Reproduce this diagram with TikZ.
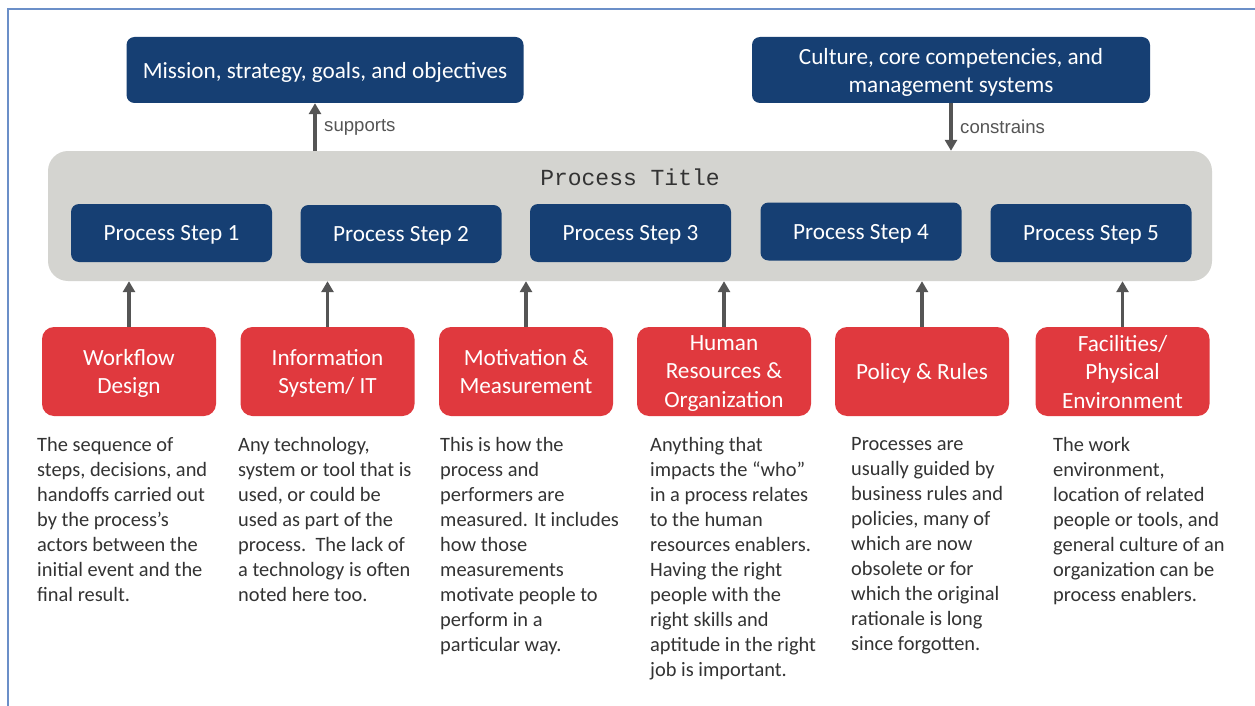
\documentclass[tikz,border=0pt]{standalone}
\usepackage{fontspec}
\setmainfont{Carlito}
\newfontfamily\labelfont{Liberation Sans}
\newfontfamily\titlefont{Liberation Mono}
\usetikzlibrary{arrows.meta}
\definecolor{navy}{HTML}{163F73}
\definecolor{redbox}{HTML}{E0393E}
\definecolor{panel}{HTML}{D4D4D0}
\definecolor{arrowgray}{HTML}{555555}
\definecolor{frameblue}{HTML}{6B8FC8}
\definecolor{bodytext}{HTML}{333333}
\tikzset{
  navybox/.style={fill=navy, rounded corners=8pt, text=white, inner sep=0pt,
    align=center, text depth=0pt, font=\fontsize{23.2}{28}\selectfont},
  stepbox/.style={navybox, minimum width=201pt, minimum height=58pt},
  enabler/.style={fill=redbox, rounded corners=12pt, text=white, inner sep=0pt,
    minimum width=174pt, minimum height=89pt, align=center, text depth=0pt,
    font=\fontsize{23.2}{28.5}\selectfont},
  desc/.style={anchor=north west, inner sep=0pt, align=left, text=bodytext,
    font=\fontsize{20.4}{25}\selectfont},
  arr/.style={draw=arrowgray, line width=3.5pt,
    -{Triangle[width=12pt,length=11pt]}},
  flowlabel/.style={anchor=west, inner sep=0pt, text=arrowgray,
    font=\labelfont\fontsize{18.6}{20}\selectfont}
}
\begin{document}
\begin{tikzpicture}[x=1pt,y=-1pt]
\useasboundingbox (0,0) rectangle (1255,706);
\fill[white] (0,0) rectangle (1255,706);
% outer frame
\draw[frameblue, line width=1.2pt] (8,720) -- (8,9) -- (1270,9);

% top level context
\node[navybox, minimum width=397pt, minimum height=66pt] (mission) at (325,70)
  {Mission, strategy, goals, and objectives};
\node[navybox, minimum width=398pt, minimum height=66pt] (culture) at (951,70)
  {Culture, core competencies, and\\management systems};

% process panel
\node[fill=panel, rounded corners=20pt, minimum width=1164pt, minimum height=130pt,
  inner sep=0pt] (panel) at (630,216) {};
\node[inner sep=0pt, text=bodytext, font=\titlefont\fontsize{23}{24}\selectfont]
  (title) at (630,177) {Process Title};

\node[stepbox] (s1) at (171.5,233) {Process Step 1};
\node[stepbox] (s2) at (401,234) {Process Step 2};
\node[stepbox] (s3) at (630.5,233) {Process Step 3};
\node[stepbox] (s4) at (861,231.5) {Process Step 4};
\node[stepbox] (s5) at (1091,233) {Process Step 5};

% supports / constrains
\coordinate (sup) at (315,151);
\draw[arr] (sup) -- (sup |- mission.south);
\node[flowlabel] (suplabel) at (324,127) {supports};
\draw[arr] (culture.south) -- (culture.south |- panel.north);
\node[flowlabel] (conlabel) at (960,127) {constrains};

% enablers
\node[enabler] (e1) at (129,371.5) {Workflow\\Design};
\node[enabler] (e2) at (327.5,371.5) {Information\\System/ IT};
\node[enabler] (e3) at (526,371.5) {Motivation \&\\Measurement};
\node[enabler] (e4) at (724,371.5) {Human\\Resources \&\\Organization};
\node[enabler] (e5) at (922,371.5) {Policy \& Rules};
\node[enabler] (e6) at (1122.5,371.5) {Facilities/\\Physical\\Environment};

\foreach \e in {e1,e2,e3,e4,e5,e6}
  \draw[arr] (\e.north) -- (\e.north |- panel.south);

% descriptions
\node[desc] (d1) at (37,437) {The sequence of\\steps, decisions, and\\handoffs carried out\\by the process’s\\actors between the\\initial event and the\\final result.};
\node[desc] (d2) at (238,437) {Any technology,\\system or tool that is\\used, or could be\\used as part of the\\process.\ \ The lack of\\a technology is often\\noted here too.};
\node[desc] (d3) at (440,437) {This is how the\\process and\\performers are\\measured. It includes\\how those\\measurements\\motivate people to\\perform in a\\particular way.};
\node[desc] (d4) at (650,437) {Anything that\\impacts the “who”\\in a process relates\\to the human\\resources enablers.\\Having the right\\people with the\\right skills and\\aptitude in the right\\job is important.};
\node[desc] (d5) at (851,437) {Processes are\\usually guided by\\business rules and\\policies, many of\\which are now\\obsolete or for\\which the original\\rationale is long\\since forgotten.};
\node[desc] (d6) at (1053,437) {The work\\environment,\\location of related\\people or tools, and\\general culture of an\\organization can be\\process enablers.};
\end{tikzpicture}
\end{document}
